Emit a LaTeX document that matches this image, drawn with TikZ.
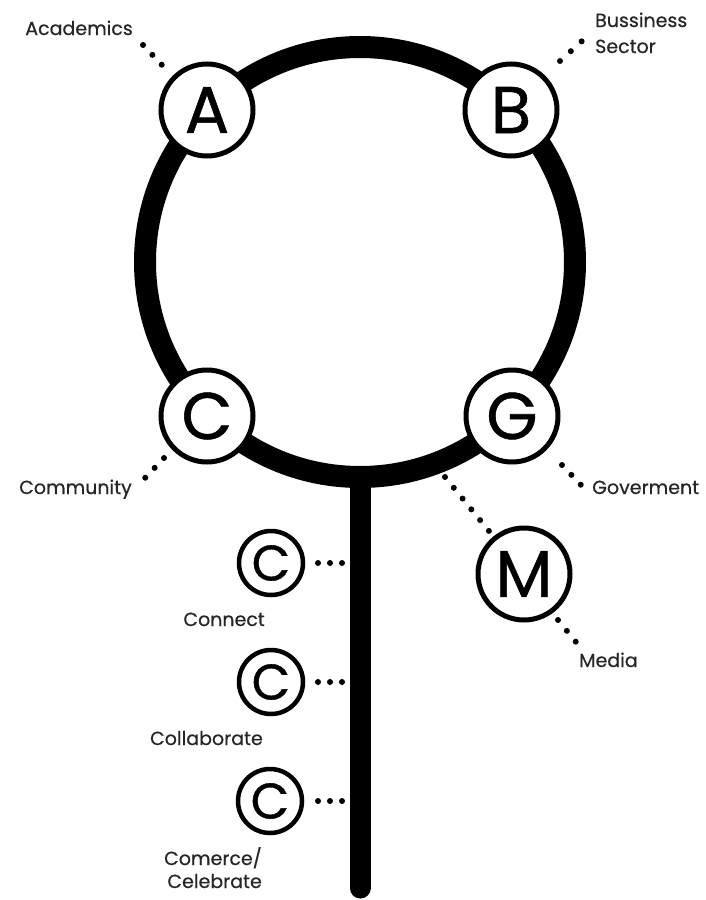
\documentclass[tikz,border=0pt]{standalone}
\usepackage{fontspec}
\setmainfont{Poppins}
\newfontfamily\letterfont{Poppins}[FakeBold=0.8]
\newfontfamily\labelfont{Poppins}[FakeBold=0.5]
\begin{document}
\begin{tikzpicture}[x=1pt,y=-1pt,
  ringstyle/.style={circle, draw, line width=22pt, minimum size=430pt, inner sep=0pt, outer sep=0pt},
  bignode/.style={circle, draw, line width=5pt, fill=white, minimum size=92pt, inner sep=0pt, outer sep=0pt, font=\letterfont\fontsize{66}{66}\selectfont},
  smallnode/.style={circle, draw, line width=4.5pt, fill=white, minimum size=64pt, inner sep=0pt, outer sep=0pt, font=\letterfont\fontsize{50}{50}\selectfont},
  lbl/.style={text=black!85, font=\labelfont\fontsize{19}{19}\selectfont, inner sep=0pt},
  dotline/.style={line width=6pt, line cap=round, dash pattern=on 0pt off #1},
  dotline/.default=13.5pt
]
\useasboundingbox (0,0) rectangle (706,900);

% ring and stem
\node[ringstyle] (ring) at (360,262) {};
\coordinate (stemend) at (360,888);

% dot-line end points
\coordinate (dA1) at (143,45);   \coordinate (dA2) at (162,65);
\coordinate (dB1) at (560,61);   \coordinate (dB2) at (582,41);
\coordinate (dC1) at (164,458);  \coordinate (dC2) at (145,478);
\coordinate (dG1) at (562,465);  \coordinate (dG2) at (581,485);
\coordinate (dM1) at (445,477);  \coordinate (dM2) at (489,531);
\coordinate (dMe1) at (558,620); \coordinate (dMe2) at (576,642);
\coordinate (s1a) at (318,563);  \coordinate (s1b) at (360,563);
\coordinate (s2a) at (318,682);  \coordinate (s2b) at (360,682);
\coordinate (s3a) at (318,801);  \coordinate (s3b) at (360,801);

\draw[dotline=12pt] (s1a) -- (s1b);
\draw[dotline=12pt] (s2a) -- (s2b);
\draw[dotline=12pt] (s3a) -- (s3b);

\draw[line width=21pt, line cap=round] (ring.south) -- (stemend);

\draw[dotline=13.6pt] (dA1) -- (dA2);
\draw[dotline=14.6pt] (dB1) -- (dB2);
\draw[dotline=13.6pt] (dC1) -- (dC2);
\draw[dotline=13.6pt] (dG1) -- (dG2);
\draw[dotline=13.9pt] (dM1) -- (dM2);
\draw[dotline=14pt] (dMe1) -- (dMe2);

% letter nodes
\node[bignode] (A) at (207,110) {A};
\node[bignode] (B) at (511,110) {B};
\node[bignode] (C) at (207,416) {C};
\node[bignode] (G) at (512,416) {G};
\node[bignode] (M) at (524,574) {M};

\node[smallnode] (c1) at (271,563) {C};
\node[smallnode] (c2) at (271,682) {C};
\node[smallnode] (c3) at (270,801) {C};

% labels
\node[lbl, anchor=base east] (lA) at (133,35) {Academics};
\node[lbl, anchor=base west] (lB1) at (595,27) {Bussiness};
\node[lbl, anchor=base west] (lB2) at (595,53) {Sector};
\node[lbl, anchor=base east] (lC) at (132,494) {Community};
\node[lbl, anchor=base west] (lG) at (592,494) {Goverment};
\node[lbl, anchor=base west] (lM) at (579,667) {Media};
\node[lbl, anchor=base east] (l1) at (265,626) {Connect};
\node[lbl, anchor=base east] (l2) at (263,745) {Collaborate};
\node[lbl, anchor=base east] (l3a) at (262,865) {Comerce/};
\node[lbl, anchor=base east] (l3b) at (262,888) {Celebrate};
\end{tikzpicture}
\end{document}
